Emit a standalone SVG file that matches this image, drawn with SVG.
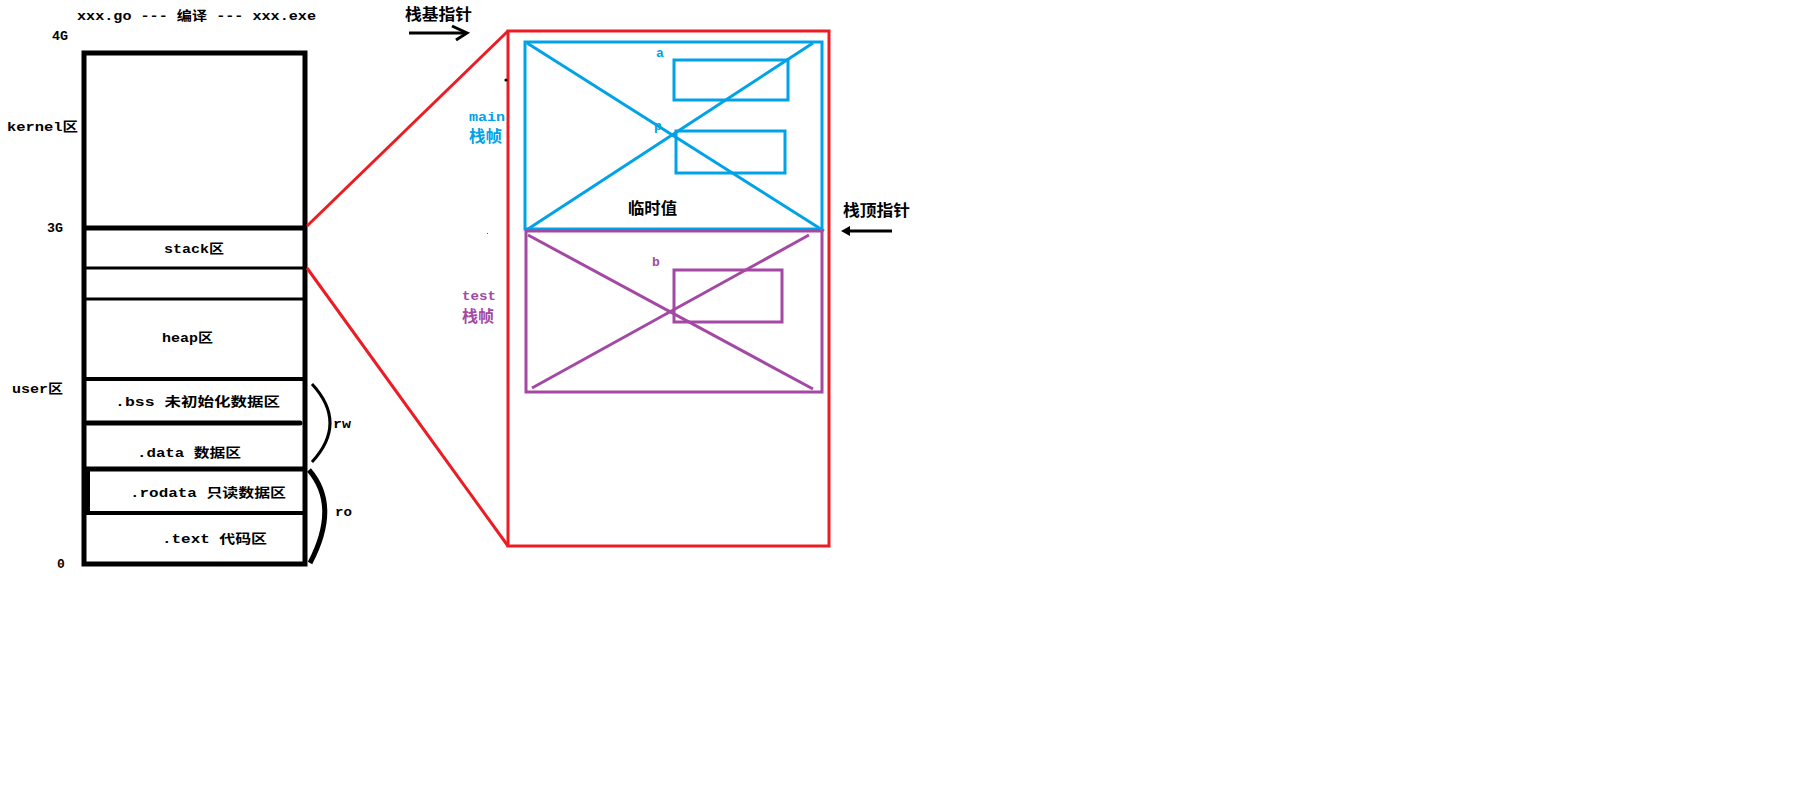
<svg xmlns="http://www.w3.org/2000/svg" width="1812" height="809" viewBox="0 0 1812 809">
<style>
text{font-family:"Liberation Mono","Noto Sans CJK SC",monospace;font-weight:bold;dominant-baseline:central;fill:#000}
.t{font-size:13px}
.c{font-size:16px;font-family:"Noto Sans CJK SC","Noto Sans CJK JP",sans-serif}
.blk{fill:none;stroke:#000}
.red{fill:none;stroke:#ed1c24;stroke-width:3}
.blue{fill:none;stroke:#00a2e8;stroke-width:3}
.pur{fill:none;stroke:#a349a4;stroke-width:3}
.bt{fill:#00a2e8}
.pt{fill:#a349a4}
</style>
<rect width="1812" height="809" fill="#fff"/>
<text class="t" x="77" y="16" textLength="239" lengthAdjust="spacingAndGlyphs">xxx.go --- 编译 --- xxx.exe</text>
<g id="memory-layout">
  <rect class="blk" x="84" y="53" width="221" height="511" stroke-width="5"/>
  <line class="blk" x1="84" y1="228" x2="307" y2="228" stroke-width="5"/>
  <line class="blk" x1="84" y1="268" x2="307" y2="268" stroke-width="3"/>
  <line class="blk" x1="84" y1="299" x2="307" y2="299" stroke-width="3"/>
  <line class="blk" x1="84" y1="379" x2="305" y2="379" stroke-width="4"/>
  <line class="blk" x1="87" y1="423" x2="300" y2="423" stroke-width="5" stroke-linecap="round"/>
  <line class="blk" x1="84" y1="469" x2="305" y2="469" stroke-width="5"/>
  <line class="blk" x1="84" y1="513" x2="305" y2="513" stroke-width="4"/>
  <line class="blk" x1="88" y1="469" x2="88" y2="513" stroke-width="4"/>
  <text class="t" x="52" y="36" textLength="16" lengthAdjust="spacingAndGlyphs">4G</text>
  <text class="t" x="7" y="127" textLength="71" lengthAdjust="spacingAndGlyphs">kernel区</text>
  <text class="t" x="47" y="228" textLength="16" lengthAdjust="spacingAndGlyphs">3G</text>
  <text class="t" x="164" y="249" textLength="60" lengthAdjust="spacingAndGlyphs">stack区</text>
  <text class="t" x="162" y="338" textLength="51" lengthAdjust="spacingAndGlyphs">heap区</text>
  <text class="t" x="12" y="389" textLength="51" lengthAdjust="spacingAndGlyphs">user区</text>
  <text class="t" x="115" y="402" textLength="165" lengthAdjust="spacingAndGlyphs">.bss 未初始化数据区</text>
  <text class="t" x="137" y="453" textLength="104" lengthAdjust="spacingAndGlyphs">.data 数据区</text>
  <text class="t" x="130" y="493" textLength="156" lengthAdjust="spacingAndGlyphs">.rodata 只读数据区</text>
  <text class="t" x="162" y="539" textLength="105" lengthAdjust="spacingAndGlyphs">.text 代码区</text>
  <text class="t" x="57" y="564">0</text>
</g>
<g id="brace-rw">
  <path class="blk" d="M312,384 Q348,423 312,462" stroke-width="3"/>
  <text class="t" x="333" y="424" textLength="18" lengthAdjust="spacingAndGlyphs">rw</text>
</g>
<g id="brace-ro">
  <path class="blk" d="M309,470 Q340,506 310,563" stroke-width="5"/>
  <text class="t" x="335" y="512" textLength="17" lengthAdjust="spacingAndGlyphs">ro</text>
</g>
<g id="stack-frame">
  <rect class="red" x="508" y="31" width="321" height="515"/>
  <circle cx="506" cy="80" r="1.6" fill="#000"/>
  <rect x="487" y="233" width="1" height="1" fill="#ed1c24"/>
</g>
<g id="main-frame">
  <rect class="blue" x="525" y="42" width="297" height="187"/>
  <line class="blue" x1="527" y1="43" x2="824" y2="231"/>
  <line class="blue" x1="813" y1="43" x2="528" y2="229"/>
  <rect class="blue" x="674" y="60" width="114" height="40"/>
  <rect class="blue" x="676" y="131" width="109" height="42"/>
  <text class="t bt" x="656" y="53">a</text>
  <text class="t bt" x="654" y="126">p</text>
  <text class="t bt" x="469" y="117" textLength="36" lengthAdjust="spacingAndGlyphs">main</text>
  <text class="c bt" x="469" y="135" textLength="33" lengthAdjust="spacingAndGlyphs">栈帧</text>
  <text class="c" x="628" y="207" textLength="49" lengthAdjust="spacingAndGlyphs">临时值</text>
</g>
<g id="test-frame">
  <rect class="pur" x="526" y="231" width="296" height="161"/>
  <line class="pur" x1="528" y1="235" x2="813" y2="389"/>
  <line class="pur" x1="809" y1="235" x2="532" y2="388"/>
  <rect class="pur" x="674" y="270" width="108" height="52"/>
  <text class="t pt" x="652" y="262">b</text>
  <text class="t pt" x="462" y="296" textLength="34" lengthAdjust="spacingAndGlyphs">test</text>
  <text class="c pt" x="462" y="315" textLength="32" lengthAdjust="spacingAndGlyphs">栈帧</text>
</g>
<g id="base-pointer">
  <text class="c" x="405" y="13" textLength="67" lengthAdjust="spacingAndGlyphs">栈基指针</text>
</g>
<g id="top-pointer">
  <text class="c" x="843" y="209" textLength="67" lengthAdjust="spacingAndGlyphs">栈顶指针</text>
</g>
<g id="connectors">
  <line class="red" x1="307" y1="226" x2="508" y2="31"/>
  <line class="red" x1="307" y1="268" x2="508" y2="546"/>
  <line class="blk" x1="409" y1="33" x2="466" y2="33" stroke-width="3"/>
  <polyline class="blk" points="452,26 467,33 456,40" stroke-width="3"/>
  <line class="blk" x1="846" y1="231" x2="892" y2="231" stroke-width="3"/>
  <polygon points="841,231 850,226 850,236" fill="#000"/>
</g>
</svg>
